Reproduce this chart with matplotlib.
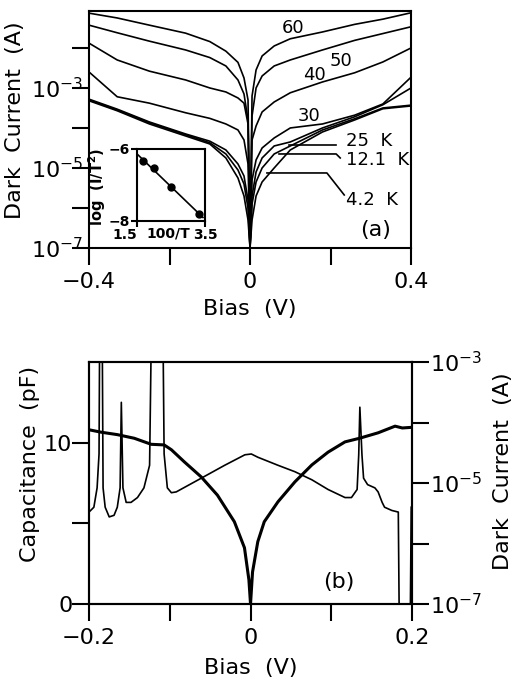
import matplotlib
matplotlib.use("Agg")
import matplotlib.pyplot as plt
import numpy as np

plt.rcParams['font.family'] = ['DejaVu Sans']
plt.rcParams['mathtext.default'] = 'regular'

# (a) dark current vs bias, log10(I / A)
bias_a = [-0.40, -0.33, -0.25, -0.16, -0.10, -0.06, -0.03, -0.015, -0.005, 0.0,
          0.005, 0.015, 0.03, 0.06, 0.10, 0.18, 0.26, 0.33, 0.40]
logI_60 = [-1.13, -1.25, -1.43, -1.63, -1.84, -2.08, -2.36, -2.75, -3.3, -7.0,
           -3.2, -2.55, -2.2, -1.95, -1.77, -1.6, -1.41, -1.28, -1.12]
logI_50 = [-1.43, -1.62, -1.83, -2.05, -2.24, -2.45, -2.8, -3.15, -3.8, -7.0,
           -3.7, -3.0, -2.7, -2.45, -2.3, -2.05, -1.81, -1.64, -1.47]
logI_40 = [-1.88, -2.3, -2.58, -2.8, -3.0, -3.1, -3.25, -3.38, -3.9, -7.0,
           -4.3, -3.95, -3.6, -3.35, -3.12, -2.85, -2.62, -2.35, -2.0]
logI_30 = [-2.6, -3.22, -3.38, -3.62, -3.76, -3.9, -4.05, -4.3, -4.9, -7.0,
           -5.3, -4.8, -4.5, -4.25, -4.0, -3.9, -3.68, -3.4, -2.73]
logI_25 = [-3.28, -3.53, -3.85, -4.15, -4.33, -4.55, -4.9, -5.2, -5.8, -7.0,
           -5.7, -5.1, -4.75, -4.45, -4.35, -4.0, -3.72, -3.42, -3.0]
logI_12 = [-3.3, -3.55, -3.87, -4.17, -4.37, -4.65, -5.05, -5.4, -6.0, -7.0,
           -5.9, -5.35, -5.0, -4.65, -4.45, -4.05, -3.77, -3.5, -3.43]
logI_4 = [-3.32, -3.57, -3.9, -4.2, -4.4, -4.75, -5.25, -5.7, -6.3, -7.0,
          -6.3, -5.7, -5.35, -5.0, -4.55, -4.1, -3.8, -3.52, -3.45]

# inset: activation plot
inset_T = [60, 50, 40, 30]
inset_logIT2 = [-6.33, -6.53, -7.06, -7.81]

# (b) capacitance (pF) and dark current vs bias
bias_c = [-0.200, -0.194, -0.190, -0.1876, -0.1865, -0.184, -0.1826, -0.180, -0.175,
          -0.169, -0.165, -0.1615, -0.160, -0.158, -0.154, -0.148, -0.140, -0.132,
          -0.125, -0.122, -0.109, -0.107, -0.103, -0.098, -0.092, -0.061, -0.032,
          -0.007, 0.001, 0.009, 0.034, 0.055, 0.076, 0.096, 0.117, 0.125, 0.132,
          0.134, 0.1354, 0.138, 0.140, 0.145, 0.154, 0.158, 0.163, 0.166, 0.175,
          0.183, 0.184, 0.198, 0.199]
cap = [5.7, 6.0, 7.2, 9.3, 20, 20, 7.2, 6.0, 5.4,
       5.5, 6.0, 7.2, 12.5, 7.2, 6.3, 6.3, 6.6, 7.2,
       8.6, 20, 20, 9.3, 7.2, 6.9, 6.95, 7.8, 8.6,
       9.25, 9.3, 9.1, 8.6, 8.2, 7.7, 7.1, 6.6, 6.6, 7.1,
       9.25, 12.2, 9.25, 7.8, 7.4, 7.2, 6.95, 6.3, 6.0, 5.8,
       5.7, 0.0, 0.0, 6.0]
bias_d = [-0.200, -0.185, -0.165, -0.144, -0.123, -0.107, -0.098, -0.082, -0.061,
          -0.041, -0.020, -0.0075, -0.002, 0.0, 0.0025, 0.009, 0.017, 0.034, 0.055,
          0.076, 0.096, 0.117, 0.135, 0.158, 0.179, 0.188, 0.199]
logI_d = [-4.12, -4.16, -4.2, -4.26, -4.36, -4.37, -4.45, -4.65, -4.9,
          -5.2, -5.64, -6.07, -6.6, -7.0, -6.47, -5.97, -5.64, -5.31, -4.98,
          -4.7, -4.49, -4.32, -4.26, -4.17, -4.06, -4.09, -4.08]

FS = 16


def style(ax):
    for s in ax.spines.values():
        s.set_linewidth(1.5)
    ax.tick_params(direction='out', length=12, width=1.5, labelsize=FS, pad=5)


fig = plt.figure(figsize=(5.14, 6.85), dpi=100)

# ---- panel (a)
ax = fig.add_axes([0.1732, 0.638, 0.6265, 0.346])
bias_a = np.array(bias_a)
for logI in [logI_60, logI_50, logI_40, logI_30, logI_25, logI_12, logI_4]:
    ax.plot(bias_a, 10.0 ** np.array(logI), color='black', lw=1.2)
ax.set_yscale('log')
ax.set_xlim(-0.4, 0.4)
ax.set_ylim(1e-7, 10 ** -1.075)
ax.set_xticks([-0.4, -0.2, 0, 0.2, 0.4])
ax.set_xticklabels(['\u22120.4', '', '0', '', '0.4'])
ax.set_yticks([1e-7, 1e-6, 1e-5, 1e-4, 1e-3, 1e-2])
ax.set_yticklabels(['$10^{-7}$', '', '$10^{-5}$', '', '$10^{-3}$', ''])
ax.yaxis.set_minor_locator(matplotlib.ticker.NullLocator())
style(ax)
ax.tick_params(axis='y', pad=-8)
ax.set_xlabel('Bias  (V)', fontsize=FS)
ax.set_ylabel('Dark  Current  (A)', fontsize=FS)
ax.xaxis.set_label_coords(0.5, -0.215)
ax.yaxis.set_label_coords(-0.199, 0.54)

for txt, x, ly in [('60', 0.107, -1.51), ('50', 0.226, -2.325),
                   ('40', 0.159, -2.675), ('30', 0.147, -3.7)]:
    ax.text(x, 10 ** ly, txt, fontsize=13, ha='center', va='center')

leaders = [('25  K', [0.097, 0.214], [-4.425, -4.425], -4.33),
           ('12.1  K', [0.072, 0.214, 0.224], [-4.65, -4.65, -4.75], -4.8),
           ('4.2  K', [0.042, 0.191, 0.234], [-5.125, -5.125, -5.675], -5.8)]
for txt, xs, lys, ty in leaders:
    ax.plot(xs, 10.0 ** np.array(lys), color='black', lw=1.2)
    ax.text(0.2385, 10 ** ty, txt, fontsize=13, ha='left', va='center')
ax.text(0.313, 10 ** -6.55, '(a)', fontsize=FS, ha='center', va='center')

# inset
ins = fig.add_axes([0.2665, 0.6774, 0.1323, 0.1051])
x_in = 100.0 / np.array(inset_T)
ins.plot(x_in, inset_logIT2, 'o', color='black', ms=5)
k, b = np.polyfit(x_in, inset_logIT2, 1)
xl = np.array([1.5, 3.44])
ins.plot(xl, k * xl + b, color='black', lw=1.2)
ins.set_xlim(1.5, 3.5)
ins.set_ylim(-8, -6)
ins.set_xticks([1.5, 3.5])
ins.set_xticklabels(['1.5', '3.5'], fontweight='bold')
ins.get_xticklabels()[0].set_ha('right')
ins.set_yticks([-8, -6])
ins.set_yticklabels(['\u22128', '\u22126'], fontweight='bold')
for s in ins.spines.values():
    s.set_linewidth(1.5)
ins.tick_params(direction='out', length=4, width=1.5, labelsize=10, pad=1)
ins.set_xlabel('100/T', fontsize=10, fontweight='bold')
ins.xaxis.set_label_coords(0.46, -0.07)
ins.set_ylabel('log  (I/T$^2$)', fontsize=10.5, fontweight='bold')
ins.yaxis.set_label_coords(-0.42, 0.47)

# ---- panel (b)
axc = fig.add_axes([0.1732, 0.1182, 0.6284, 0.3533])
axc.plot(bias_c, cap, color='black', lw=1.2)
axc.set_xlim(-0.2, 0.2)
axc.set_ylim(0, 15)
axc.set_xticks([-0.2, -0.1, 0, 0.1, 0.2])
axc.set_xticklabels(['\u22120.2', '', '0', '', '0.2'])
axc.set_yticks([0, 5, 10])
axc.set_yticklabels(['0', '', '10'])
style(axc)
axc.tick_params(axis='y', pad=0)
axc.set_xlabel('Bias  (V)', fontsize=FS)
axc.set_ylabel('Capacitance  (pF)', fontsize=FS)
axc.xaxis.set_label_coords(0.5, -0.225)
axc.yaxis.set_label_coords(-0.152, 0.58)
axc.text(0.109, 1.37, '(b)', fontsize=FS, ha='center', va='center')

axd = axc.twinx()
axd.plot(bias_d, 10.0 ** np.array(logI_d), color='black', lw=2.2)
axd.set_yscale('log')
axd.set_ylim(1e-7, 1e-3)
axd.set_yticks([1e-7, 1e-6, 1e-5, 1e-4, 1e-3])
axd.set_yticklabels(['$10^{-7}$', '', '$10^{-5}$', '', '$10^{-3}$'])
axd.yaxis.set_minor_locator(matplotlib.ticker.NullLocator())
style(axd)
axd.tick_params(axis='y', pad=1)
axd.set_ylabel('Dark  Current  (A)', fontsize=FS)
axd.yaxis.set_label_coords(1.251, 0.55)

fig.savefig('out.png', dpi=100)
